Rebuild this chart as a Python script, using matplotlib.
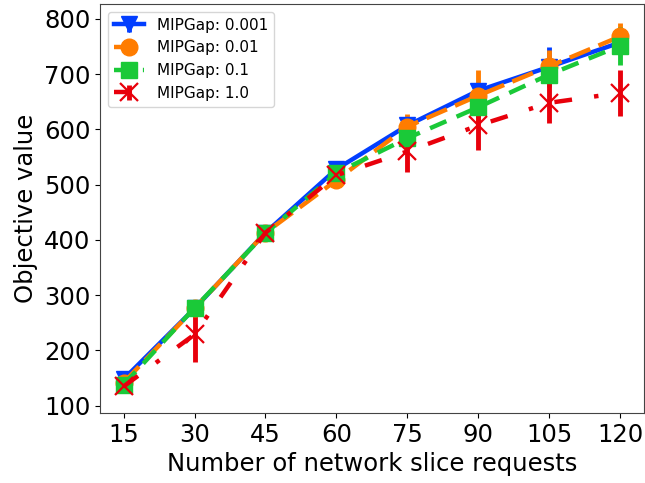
import matplotlib.pyplot as plt

# Data
requests = [15, 30, 45, 60, 75, 90, 105, 120]

gap_0001 = [148, 276, 413, 528, 607, 670, 713, 757]
gap_0001_err = [10, 10, 10, 14, 14, 14, 36, 20]

gap_001 = [142, 276, 413, 508, 605, 661, 714, 768]
gap_001_err = [8, 12, 10, 10, 23, 47, 30, 25]

gap_01 = [138, 277, 412, 521, 584, 640, 699, 751]
gap_01_err = [8, 10, 10, 10, 14, 20, 20, 34]

gap_1 = [135, 229, 413, 517, 560, 607, 648, 666]
gap_1_err = [8, 50, 10, 10, 38, 45, 37, 41]

labels = ['MIPGap: 0.001', 'MIPGap: 0.01', 'MIPGap: 0.1', 'MIPGap: 1.0']
colors = ['#023eff', '#ff7c00', '#1ac938', '#e8000b']
markers = ['v', 'o', 's', 'x']
styles = ['-', (0, (5, 2)), (0, (4, 2.5)), (0, (4, 5, 1, 5))]

fig = plt.figure(figsize=(6.45, 4.83), dpi=100)
ax = fig.add_axes([0.155, 0.145, 0.843, 0.847])

series = [(gap_0001, gap_0001_err), (gap_001, gap_001_err),
          (gap_01, gap_01_err), (gap_1, gap_1_err)]
for (vals, errs), lab, c, m, ls in zip(series, labels, colors, markers, styles):
    ax.errorbar(requests, vals, yerr=errs, label=lab, color=c, marker=m,
                linestyle=ls, linewidth=3.2, markersize=13 if m == 'x' else 12,
                elinewidth=3.5, markeredgewidth=1.6 if m == 'x' else 1)

ax.set_xlim(10, 125)
ax.set_ylim(87, 827)
ax.set_xticks(requests)
ax.set_yticks(range(100, 801, 100))
ax.tick_params(labelsize=17.5)
ax.set_xlabel('Number of network slice requests', fontsize=17.5)
ax.set_ylabel('Objective value', fontsize=17.5)
for s in ax.spines.values():
    s.set_color('#444444')

ax.legend(loc='upper left', fontsize=11)

fig.savefig('out.png', dpi=100)
